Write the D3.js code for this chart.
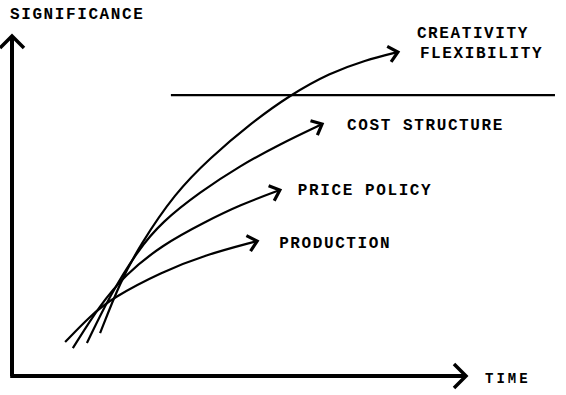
<!DOCTYPE html>
<html>
<head>
<meta charset="utf-8">
<script src="https://cdn.jsdelivr.net/npm/d3@7"></script>
<style>
  body { margin: 0; background: #fff; }
  text { font-family: "Liberation Mono", "DejaVu Sans Mono", monospace; font-weight: bold; fill: #000; }
</style>
</head>
<body>
<div id="chart"></div>
<script>
// axis titles
const yTitle = "SIGNIFICANCE";
const xTitle = "TIME";

// series names (line breaks with \n)
const seriesNames = ["CREATIVITY\nFLEXIBILITY", "COST STRUCTURE", "PRICE POLICY", "PRODUCTION"];

// series values, [time, significance] (0-100 scale)
const creativity = [[19.4, 12.6], [23.8, 27.6], [28.2, 38.5], [35.9, 53.8], [43.6, 64.1],
  [52.4, 74.1], [61.2, 82.6], [70.0, 89.1], [77.8, 92.9], [85.0, 95.3]];
const costStructure = [[16.5, 9.7], [21.6, 23.8], [27.8, 37.1], [33.0, 45.3], [41.4, 54.1],
  [50.2, 61.8], [59.0, 68.2], [68.3, 74.1]];
const pricePolicy = [[13.4, 8.2], [19.4, 20.9], [24.9, 29.7], [33.0, 38.5], [42.5, 45.3],
  [50.2, 50.3], [59.0, 54.7]];
const production = [[11.7, 10.0], [17.2, 17.6], [22.0, 22.9], [33.0, 30.6], [42.5, 35.6], [54.0, 39.7]];

// horizontal threshold line: level and time span
const thresholdLevel = 82.6;
const thresholdSpan = [35, 119.6];

const allSeries = [creativity, costStructure, pricePolicy, production];

const W = 566, H = 395;

const x = d3.scaleLinear().domain([0, 100]).range([12, 466]);
const y = d3.scaleLinear().domain([0, 100]).range([376, 36]);

const svg = d3.select("#chart").append("svg")
  .attr("width", W)
  .attr("height", H);

// arrowheads
const defs = svg.append("defs");
defs.append("marker")
  .attr("id", "axisArrow")
  .attr("markerUnits", "userSpaceOnUse")
  .attr("viewBox", "-16 -16 20 32")
  .attr("refX", 0).attr("refY", 0)
  .attr("markerWidth", 20).attr("markerHeight", 32)
  .attr("orient", "auto")
  .append("path")
  .attr("d", "M-12,-12L0,0L-12,12")
  .attr("fill", "none")
  .attr("stroke", "#000")
  .attr("stroke-width", 3.5);

defs.append("marker")
  .attr("id", "curveArrow")
  .attr("markerUnits", "userSpaceOnUse")
  .attr("viewBox", "-14 -12 18 24")
  .attr("refX", 0).attr("refY", 0)
  .attr("markerWidth", 18).attr("markerHeight", 24)
  .attr("orient", "auto")
  .append("path")
  .attr("d", "M-9,-8L0,0L-9,8")
  .attr("fill", "none")
  .attr("stroke", "#000")
  .attr("stroke-width", 3.2);

const axisLine = d3.line()
  .x(d => x(d[0]))
  .y(d => y(d[1]));

const curveLine = d3.line()
  .x(d => x(d[0]))
  .y(d => y(d[1]))
  .curve(d3.curveBasis);

//Axes: plain lines with arrow tips, no ticks
svg.append("path")
  .attr("d", axisLine([[0, 0], [0, 100]]))
  .attr("stroke", "#000")
  .attr("stroke-width", 4)
  .attr("fill", "none")
  .attr("marker-end", "url(#axisArrow)");

svg.append("path")
  .attr("d", axisLine([[-0.4, 0], [100, 0]]))
  .attr("stroke", "#000")
  .attr("stroke-width", 4)
  .attr("fill", "none")
  .attr("marker-end", "url(#axisArrow)");

// threshold line
svg.append("line")
  .attr("x1", x(thresholdSpan[0]))
  .attr("x2", x(thresholdSpan[1]))
  .attr("y1", y(thresholdLevel))
  .attr("y2", y(thresholdLevel))
  .attr("stroke", "#000")
  .attr("stroke-width", 2.2);

// curves
svg.selectAll(".curve")
  .data(allSeries)
  .enter()
  .append("path")
  .attr("class", "curve")
  .attr("d", d => curveLine(d))
  .attr("fill", "none")
  .attr("stroke", "#000")
  .attr("stroke-width", 2.2)
  .attr("marker-end", "url(#curveArrow)");

// labels next to arrow ends
const labelOffset = [[19, -14], [25, 6], [18, 5], [22, 7]];
const lineHeight = 20;

svg.selectAll(".seriesLabel")
  .data(seriesNames)
  .enter()
  .append("text")
  .attr("class", "seriesLabel")
  .attr("font-size", 16)
  .attr("letter-spacing", 1.6)
  .each(function (name, i) {
    const end = allSeries[i][allSeries[i].length - 1];
    const tx = x(end[0]) + labelOffset[i][0];
    const ty = y(end[1]) + labelOffset[i][1];
    name.split("\n").forEach((part, k) => {
      d3.select(this).append("tspan")
        .attr("x", tx + k * 3)
        .attr("y", ty + k * lineHeight)
        .text(part);
    });
  });

// axis titles
svg.append("text")
  .attr("x", 10)
  .attr("y", 19)
  .attr("font-size", 16)
  .attr("letter-spacing", 1.6)
  .text(yTitle);

svg.append("text")
  .attr("x", 485)
  .attr("y", 383)
  .attr("font-size", 14)
  .attr("letter-spacing", 3)
  .text(xTitle);
</script>
</body>
</html>
